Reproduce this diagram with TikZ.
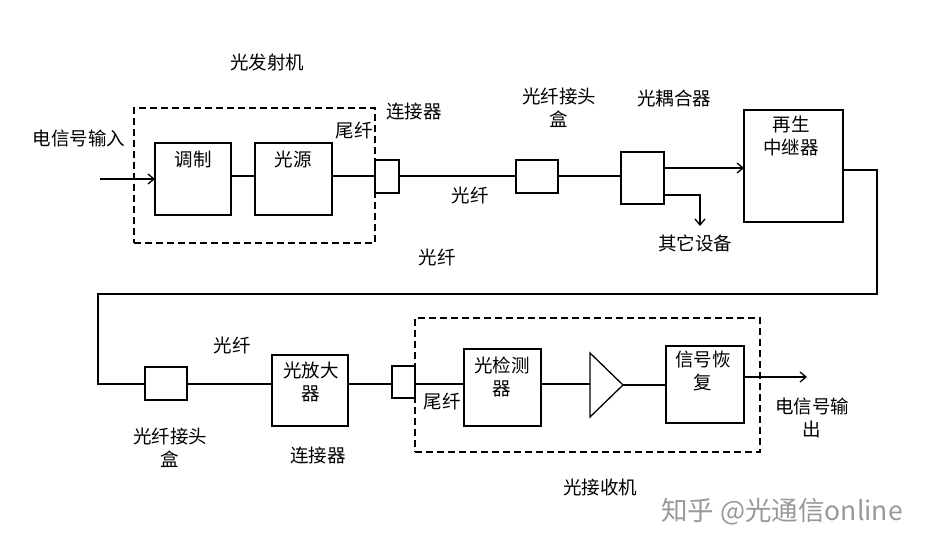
\documentclass[tikz,border=0pt]{standalone}
\usepackage{fontspec}
\newfontfamily\cjk{Noto Sans CJK SC}
\usetikzlibrary{arrows.meta}
\begin{document}
\begin{tikzpicture}[x=1pt,y=-1pt,
  box/.style={draw,line width=1.3pt,inner sep=0pt,outer sep=0pt},
  dbox/.style={draw,line width=1.3pt,dash pattern=on 7pt off 4pt,inner sep=0pt,outer sep=0pt},
  txt/.style={font=\cjk\fontsize{18.5}{22.5}\selectfont,inner sep=0pt,align=center},
  wire/.style={line width=1.3pt},
  arr/.style={line width=1.3pt,-{Straight Barb[length=6pt,width=10pt,line width=1.3pt]}},
  wm/.style={font=\cjk\fontsize{26.5}{30}\selectfont,text=black!40,inner sep=0pt}]
\useasboundingbox (0,0) rectangle (932,549);
% boxes
\node[dbox,minimum width=241pt,minimum height=135pt] (tx) at (254.5,175.5) {};
\node[dbox,minimum width=345pt,minimum height=134pt] (rx) at (587.5,385) {};
\node[box,minimum width=76pt,minimum height=72pt] (mod) at (193,179) {};
\node[box,minimum width=77pt,minimum height=72pt] (src) at (293.5,179) {};
\node[box,minimum width=24pt,minimum height=33pt] (conn1) at (387,176.5) {};
\node[box,minimum width=42pt,minimum height=33pt] (splice1) at (537,176.5) {};
\node[box,minimum width=43pt,minimum height=52pt] (coupler) at (642.5,178) {};
\node[box,minimum width=99pt,minimum height=112pt] (regen) at (793.5,166) {};
\node[box,minimum width=42pt,minimum height=33pt] (splice2) at (166,383.5) {};
\node[box,minimum width=76pt,minimum height=71pt] (oamp) at (310,390.5) {};
\node[box,minimum width=23pt,minimum height=32pt] (conn2) at (403.5,382) {};
\node[box,minimum width=77pt,minimum height=77pt] (det) at (502.5,387.5) {};
\node[box,minimum width=78pt,minimum height=77pt] (rec) at (705,384.5) {};
\coordinate (ampin) at (590,385);
\coordinate (ampout) at (623,385);
\draw[wire] (590,353) -- (ampout) -- (590,417) -- cycle;
% texts
\node[txt] (ttx) at (267,62) {光发射机};
\node[txt] (tin) at (79,138) {电信号输入};
\node[txt] (tmod) at (193,159) {调制};
\node[txt] (tsrc) at (293,159) {光源};
\node[txt] (tpig1) at (354,130) {尾纤};
\node[txt] (tconn1) at (414,111) {连接器};
\node[txt] (tfib1) at (470,195) {光纤};
\node[txt] (tsp1) at (559,108) {光纤接头\\盒};
\node[txt] (tcoup) at (674,98) {光耦合器};
\node[txt] (tregen) at (791,136) {再生\\中继器};
\node[txt] (tother) at (695,243) {其它设备};
\node[txt] (tfib2) at (437,257) {光纤};
\node[txt] (tfib3) at (232,345) {光纤};
\node[txt] (tsp2) at (170,448) {光纤接头\\盒};
\node[txt] (tconn2) at (318,455) {连接器};
\node[txt] (toamp) at (311,382) {光放大\\器};
\node[txt] (tpig2) at (442,401) {尾纤};
\node[txt] (tdet) at (502,377) {光检测\\器};
\node[txt] (trec) at (703,371) {信号恢\\复};
\node[txt] (tout) at (812,418) {电信号输\\出};
\node[txt] (trx) at (600,487) {光接收机};
\node[wm] (mark) at (782,512) {知乎 @光通信online};
% connectors
\coordinate (inA) at (100,179);
\draw[arr] (inA) -- (mod.west |- inA);
\draw[wire] (mod.east |- 0,176) -- (src.west |- 0,176);
\draw[wire] (src.east |- 0,176) -- (conn1.west |- 0,176);
\draw[wire] (conn1.east |- 0,176) -- (splice1.west |- 0,176);
\draw[wire] (splice1.east |- 0,176) -- (coupler.west |- 0,176);
\draw[arr] (coupler.east |- 0,168) -- (regen.west |- 0,168);
\coordinate (other) at (700,226);
\draw[arr] (coupler.east |- 0,195) -| (other);
\draw[wire] (regen.east |- 0,170) -| (877,294) -| (98,384) -- (splice2.west |- 0,384);
\draw[wire] (splice2.east |- 0,384) -- (oamp.west |- 0,384);
\draw[wire] (oamp.east |- 0,384) -- (conn2.west |- 0,384);
\draw[wire] (conn2.east |- 0,384) -- (det.west |- 0,384);
\draw[wire] (det.east |- 0,384) -- (ampin |- 0,384);
\draw[wire] (ampout) -- (rec.west |- ampout);
\coordinate (outB) at (807,377);
\draw[arr] (rec.east |- outB) -- (outB);
\end{tikzpicture}
\end{document}
